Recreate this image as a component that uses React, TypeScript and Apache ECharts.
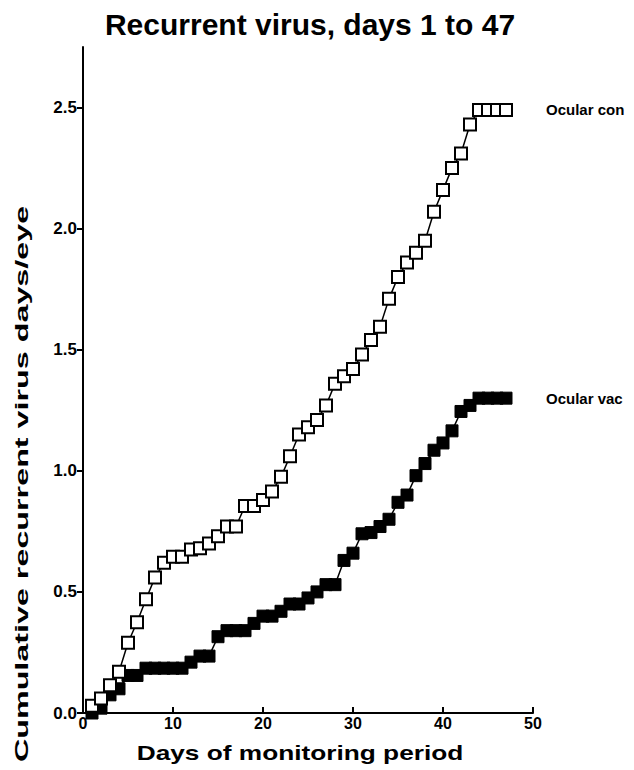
import React, { useEffect, useRef } from "react";
import * as echarts from "echarts";

const days = [
  1, 2, 3, 4, 5, 6, 7, 8, 9, 10, 11, 12, 13, 14, 15, 16, 17, 18, 19, 20, 21, 22, 23, 24,
  25, 26, 27, 28, 29, 30, 31, 32, 33, 34, 35, 36, 37, 38, 39, 40, 41, 42, 43, 44, 45, 46, 47,
];
const ocularCon = [
  0.03, 0.06, 0.115, 0.17, 0.29, 0.375, 0.47, 0.56, 0.62, 0.645, 0.645, 0.675, 0.68, 0.7,
  0.73, 0.77, 0.77, 0.855, 0.855, 0.88, 0.915, 0.975, 1.06, 1.15, 1.18, 1.21, 1.27, 1.36,
  1.39, 1.42, 1.48, 1.54, 1.595, 1.71, 1.8, 1.86, 1.9, 1.95, 2.07, 2.16, 2.25, 2.31, 2.43,
  2.49, 2.49, 2.49, 2.49,
];
const ocularVac = [
  0.0, 0.02, 0.075, 0.1, 0.155, 0.155, 0.185, 0.185, 0.185, 0.185, 0.185, 0.21, 0.235, 0.235,
  0.315, 0.34, 0.34, 0.34, 0.37, 0.4, 0.4, 0.42, 0.45, 0.45, 0.475, 0.5, 0.53, 0.53, 0.63,
  0.66, 0.74, 0.745, 0.77, 0.8, 0.87, 0.9, 0.98, 1.03, 1.085, 1.115, 1.165, 1.245, 1.27, 1.3,
  1.3, 1.3, 1.3,
];
const yTicks = [0, 0.5, 1.0, 1.5, 2.0, 2.5];
const seriesNames = ["Ocular con", "Ocular vac"];
const titleText = "Recurrent virus, days 1 to 47";
const xName = "Days of monitoring period";
const yName = "Cumulative recurrent virus days/eye";

const FONT = "'Liberation Sans', Arial, Helvetica, sans-serif";

export default function App() {
  const ref = useRef<HTMLDivElement>(null);
  useEffect(() => {
    if (!ref.current) return;
    const chart = echarts.init(ref.current, null, { renderer: "svg" });
    const toPairs = (vals: number[]) => days.map((d, i) => [d, vals[i]]);
    const endLabel = {
      show: true,
      formatter: "{a}",
      distance: 40,
      fontFamily: FONT,
      fontSize: 15,
      fontWeight: "bold",
      color: "#000",
    };
    chart.setOption({
      animation: false,
      backgroundColor: "#fff",
      title: {
        text: titleText,
        left: 305,
        textAlign: "center",
        top: 4,
        textStyle: { fontFamily: FONT, fontSize: 30, fontWeight: "bold", color: "#000" },
      },
      grid: { left: 83, right: 101, top: 47, bottom: 57, containLabel: false },
      xAxis: {
        type: "value",
        min: 0,
        max: 50,
        interval: 10,
        axisLine: { show: true, lineStyle: { color: "#000", width: 2 } },
        axisTick: { show: true, inside: true, length: 6, lineStyle: { color: "#000", width: 2 } },
        axisLabel: {
          fontFamily: FONT,
          fontSize: 16,
          fontWeight: "bold",
          color: "#000",
          margin: 2,
        },
        splitLine: { show: false },
      },
      yAxis: {
        type: "value",
        min: 0,
        max: 2.75,
        axisLine: { show: true, onZero: false, lineStyle: { color: "#000", width: 2 } },
        axisTick: {
          show: true,
          length: 6,
          customValues: yTicks,
          lineStyle: { color: "#000", width: 2 },
        },
        axisLabel: {
          customValues: yTicks,
          formatter: (v: number) => v.toFixed(1),
          fontFamily: FONT,
          fontSize: 17,
          fontWeight: "bold",
          color: "#000",
          margin: 6,
        },
        splitLine: { show: false },
      },
      graphic: [
        {
          type: "text",
          x: 22,
          y: 484,
          rotation: Math.PI / 2,
          scaleX: 1.7,
          style: {
            text: yName,
            fontFamily: FONT,
            fontSize: 19,
            fontWeight: "bold",
            fill: "#000",
            textAlign: "center",
            textVerticalAlign: "middle",
          },
        },
        {
          type: "text",
          x: 300,
          y: 752,
          scaleX: 1.25,
          style: {
            text: xName,
            fontFamily: FONT,
            fontSize: 21,
            fontWeight: "bold",
            fill: "#000",
            textAlign: "center",
            textVerticalAlign: "middle",
          },
        },
      ],
      series: [
        {
          name: seriesNames[1],
          type: "line",
          data: toPairs(ocularVac),
          symbol: "rect",
          symbolSize: 12,
          itemStyle: { color: "#000", borderColor: "#000", borderWidth: 1 },
          lineStyle: { color: "#000", width: 1.5 },
          endLabel,
          z: 2,
        },
        {
          name: seriesNames[0],
          type: "line",
          data: toPairs(ocularCon),
          symbol: "rect",
          symbolSize: 12,
          itemStyle: { color: "#fff", borderColor: "#000", borderWidth: 2 },
          lineStyle: { color: "#000", width: 1.5 },
          endLabel,
          z: 3,
        },
      ],
    });
    return () => chart.dispose();
  }, []);
  return <div ref={ref} style={{ width: 634, height: 770, position: "absolute", left: 0, top: 0 }} />;
}
